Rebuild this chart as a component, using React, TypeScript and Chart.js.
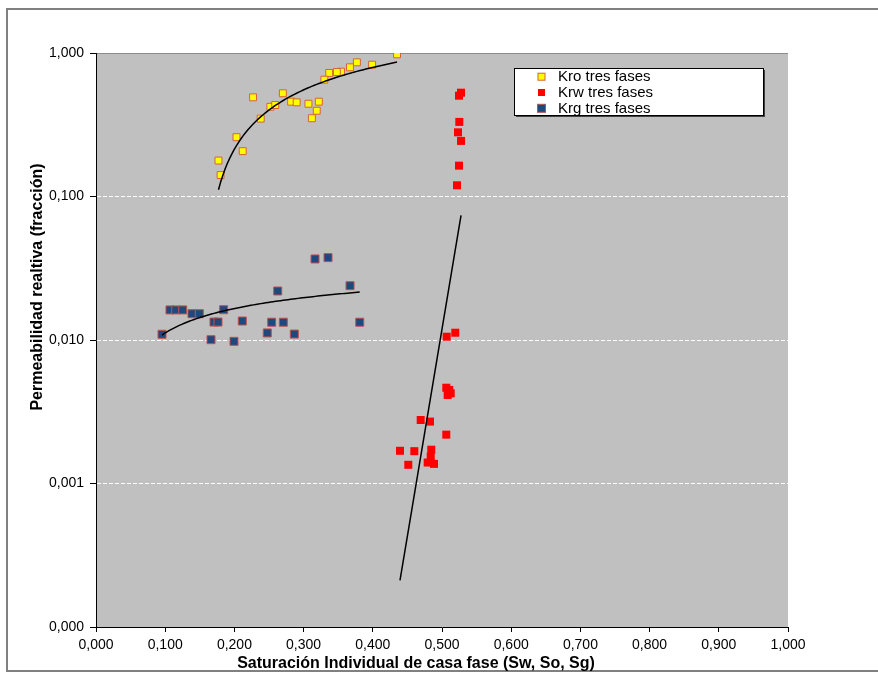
import React, { useEffect, useRef } from "react";
import { Chart, registerables } from "chart.js";

Chart.register(...registerables);

const FONT = "'Liberation Sans', Arial, Helvetica, sans-serif";

// ---- Data ----
const seriesNames = ["Kro tres fases", "Krw tres fases", "Krg tres fases"];

const kroSat = [0.435, 0.399, 0.377, 0.367, 0.354, 0.348, 0.337, 0.330, 0.270, 0.227, 0.252, 0.259, 0.282, 0.290, 0.307, 0.322, 0.319, 0.312, 0.238, 0.203, 0.212, 0.177, 0.180];
const kroVal = [0.979, 0.829, 0.861, 0.795, 0.741, 0.737, 0.726, 0.652, 0.524, 0.491, 0.422, 0.434, 0.458, 0.453, 0.443, 0.458, 0.396, 0.351, 0.349, 0.259, 0.207, 0.178, 0.141];

const krwSat = [0.5275, 0.5246, 0.525, 0.5231, 0.5275, 0.5246, 0.5217, 0.5192, 0.5068, 0.5062, 0.5105, 0.5126, 0.5082, 0.4692, 0.4827, 0.5062, 0.4393, 0.46, 0.4845, 0.4837, 0.4793, 0.4884, 0.4513];
const krwVal = [0.529, 0.504, 0.331, 0.28, 0.244, 0.164, 0.1197, 0.01124, 0.01054, 0.00465, 0.00449, 0.00425, 0.00414, 0.00277, 0.0027, 0.00219, 0.00169, 0.00168, 0.00172, 0.00154, 0.0014, 0.00137, 0.00135];

const krgSat = [0.0954, 0.1069, 0.1152, 0.1253, 0.1387, 0.1493, 0.1705, 0.1763, 0.1845, 0.1662, 0.1994, 0.2114, 0.2475, 0.2539, 0.2626, 0.2707, 0.2866, 0.3165, 0.3353, 0.3671, 0.3811];
const krgVal = [0.01096, 0.0162, 0.0162, 0.0162, 0.01525, 0.01525, 0.01334, 0.01334, 0.01626, 0.01005, 0.00979, 0.01356, 0.0112, 0.0133, 0.02195, 0.0133, 0.011, 0.0367, 0.0375, 0.0239, 0.0133];

const xTicks = [0, 0.1, 0.2, 0.3, 0.4, 0.5, 0.6, 0.7, 0.8, 0.9, 1.0];
const yTicks = [0.0001, 0.001, 0.01, 0.1, 1];

const xTitle = "Saturación Individual de casa fase (Sw, So, Sg)";
const yTitle = "Permeabilidad realtiva (fracción)";

// ---- Trendlines (least-squares fits of the data, like the spreadsheet) ----
function logTrend(xs: number[], ys: number[], n = 80) {
  const lx = xs.map(Math.log);
  const m = xs.length;
  const mx = lx.reduce((a, b) => a + b, 0) / m;
  const my = ys.reduce((a, b) => a + b, 0) / m;
  let sxy = 0, sxx = 0;
  for (let i = 0; i < m; i++) {
    sxy += (lx[i] - mx) * (ys[i] - my);
    sxx += (lx[i] - mx) * (lx[i] - mx);
  }
  const a = sxy / sxx;
  const b = my - a * mx;
  const x0 = Math.min(...xs), x1 = Math.max(...xs);
  const pts: { x: number; y: number }[] = [];
  for (let k = 0; k <= n; k++) {
    const x = x0 + ((x1 - x0) * k) / n;
    pts.push({ x, y: a * Math.log(x) + b });
  }
  return pts;
}

function expTrend(xs: number[], ys: number[], n = 20) {
  const ly = ys.map(Math.log);
  const m = xs.length;
  const mx = xs.reduce((a, b) => a + b, 0) / m;
  const my = ly.reduce((a, b) => a + b, 0) / m;
  let sxy = 0, sxx = 0;
  for (let i = 0; i < m; i++) {
    sxy += (xs[i] - mx) * (ly[i] - my);
    sxx += (xs[i] - mx) * (xs[i] - mx);
  }
  const b = sxy / sxx;
  const a = my - b * mx;
  const x0 = Math.min(...xs), x1 = Math.max(...xs);
  const pts: { x: number; y: number }[] = [];
  for (let k = 0; k <= n; k++) {
    const x = x0 + ((x1 - x0) * k) / n;
    pts.push({ x, y: Math.exp(a + b * x) });
  }
  return pts;
}

const zip = (xs: number[], ys: number[]) => xs.map((x, i) => ({ x, y: ys[i] }));
const fmt = (v: number) => Number(v).toFixed(3).replace(".", ",");

const KRO_FILL = "#FFFF00";
const KRO_BORDER = "#D9603A";
const KRW_FILL = "#FF0000";
const KRG_FILL = "#1F497D";
const KRG_BORDER = "#C0504D";

const decorPlugin = {
  id: "decor",
  beforeDraw(chart: any) {
    const { ctx, chartArea } = chart;
    ctx.save();
    ctx.fillStyle = "#FFFFFF";
    ctx.fillRect(0, 0, chart.width, chart.height);
    // outer frame
    ctx.strokeStyle = "#808080";
    ctx.lineWidth = 2;
    ctx.strokeRect(7, 9, 900, 662);
    // plot area
    ctx.fillStyle = "#C0C0C0";
    ctx.fillRect(chartArea.left, chartArea.top, chartArea.right - chartArea.left, chartArea.bottom - chartArea.top);
    ctx.strokeStyle = "#8C8C8C";
    ctx.lineWidth = 1;
    ctx.beginPath();
    ctx.moveTo(chartArea.left, chartArea.top + 0.5);
    ctx.lineTo(chartArea.right, chartArea.top + 0.5);
    ctx.stroke();
    ctx.restore();
  },
  afterDraw(chart: any) {
    const { ctx } = chart;
    ctx.save();
    // axis titles
    ctx.fillStyle = "#000";
    ctx.font = `bold 16px ${FONT}`;
    ctx.textAlign = "center";
    ctx.textBaseline = "alphabetic";
    ctx.fillText(xTitle, 416, 668);
    ctx.translate(41.5, 287);
    ctx.rotate(-Math.PI / 2);
    ctx.fillText(yTitle, 0, 0);
    ctx.restore();

    // legend
    ctx.save();
    const lx = 514, ly = 68, lw = 249, lh = 47;
    ctx.fillStyle = "#404040";
    ctx.fillRect(lx + 2, ly + 2, lw, lh);
    ctx.fillStyle = "#FFFFFF";
    ctx.fillRect(lx, ly, lw, lh);
    ctx.strokeStyle = "#000";
    ctx.lineWidth = 1;
    ctx.strokeRect(lx + 0.5, ly + 0.5, lw, lh);
    const rows = [76.7, 92.5, 108.3];
    const mx = 541.5;
    ctx.font = `15px ${FONT}`;
    ctx.textAlign = "left";
    ctx.textBaseline = "middle";
    rows.forEach((ry, i) => {
      if (i === 0) {
        ctx.fillStyle = KRO_FILL;
        ctx.fillRect(mx - 3.5, ry - 3.5, 7, 7);
        ctx.strokeStyle = KRO_BORDER;
        ctx.strokeRect(mx - 3.5, ry - 3.5, 7, 7);
      } else if (i === 1) {
        ctx.fillStyle = KRW_FILL;
        ctx.fillRect(mx - 3.5, ry - 3.5, 7, 7);
      } else {
        ctx.fillStyle = KRG_FILL;
        ctx.fillRect(mx - 4, ry - 4, 8, 8);
        ctx.strokeStyle = KRG_BORDER;
        ctx.strokeRect(mx - 4, ry - 4, 8, 8);
      }
      ctx.fillStyle = "#000";
      ctx.fillText(seriesNames[i], 558, ry + 0.5);
    });
    ctx.restore();
  },
};

export default function App() {
  const ref = useRef<HTMLCanvasElement | null>(null);

  useEffect(() => {
    if (!ref.current) return;
    const trendStyle = {
      showLine: true,
      pointRadius: 0,
      pointHoverRadius: 0,
      borderColor: "#000000",
      borderWidth: 1.5,
      fill: false,
      tension: 0,
    };
    const chart = new Chart(ref.current, {
      type: "scatter",
      data: {
        datasets: [
          { label: "trend Kro", data: logTrend(kroSat, kroVal), ...trendStyle },
          { label: "trend Krw", data: expTrend(krwSat, krwVal), ...trendStyle },
          { label: "trend Krg", data: logTrend(krgSat, krgVal), ...trendStyle },
          {
            label: seriesNames[0],
            data: zip(kroSat, kroVal),
            pointStyle: "rect",
            pointRadius: 4.9,
            backgroundColor: KRO_FILL,
            borderColor: KRO_BORDER,
            borderWidth: 1,
          },
          {
            label: seriesNames[1],
            data: zip(krwSat, krwVal),
            pointStyle: "rect",
            pointRadius: 5.66,
            backgroundColor: KRW_FILL,
            borderColor: KRW_FILL,
            borderWidth: 0,
          },
          {
            label: seriesNames[2],
            data: zip(krgSat, krgVal),
            pointStyle: "rect",
            pointRadius: 5.66,
            backgroundColor: KRG_FILL,
            borderColor: KRG_BORDER,
            borderWidth: 1,
          },
        ] as any,
      },
      options: {
        animation: false,
        responsive: false,
        events: [],
        layout: { padding: { left: 0, top: 53, right: 90, bottom: 0 } },
        plugins: { legend: { display: false }, tooltip: { enabled: false }, title: { display: false } },
        scales: {
          x: {
            type: "linear",
            min: 0,
            max: 1,
            afterFit: (s: any) => { s.height = 50; },
            afterBuildTicks: (s: any) => { s.ticks = xTicks.map((v) => ({ value: v })); },
            ticks: {
              callback: (v: any) => fmt(v),
              color: "#000",
              font: { family: FONT, size: 14 },
              padding: 5,
              maxRotation: 0,
              autoSkip: false,
            },
            grid: {
              display: true,
              drawOnChartArea: false,
              drawTicks: true,
              tickLength: 5,
              tickColor: "#000",
              tickWidth: 1,
            },
            border: { display: true, color: "#000", width: 1 },
          },
          y: {
            type: "logarithmic",
            min: 0.0001,
            max: 1,
            afterFit: (s: any) => { s.width = 96; },
            afterBuildTicks: (s: any) => { s.ticks = yTicks.map((v) => ({ value: v })); },
            ticks: {
              callback: (v: any) => fmt(v),
              color: "#000",
              font: { family: FONT, size: 14 },
              padding: 6,
              autoSkip: false,
            },
            grid: {
              display: true,
              drawOnChartArea: true,
              drawTicks: true,
              tickLength: 6,
              color: (c: any) =>
                c.tick && c.tick.value > 0.0001 && c.tick.value < 1 ? "#FFFFFF" : "rgba(0,0,0,0)",
              tickColor: "#000",
              tickWidth: 1,
              lineWidth: 1,
              tickBorderDash: [],
            },
            border: { display: true, color: "#000", width: 1, dash: [4, 2] },
          },
        },
      } as any,
      plugins: [decorPlugin],
    });
    return () => chart.destroy();
  }, []);

  return (
    <div style={{ position: "absolute", left: 0, top: 0, width: 878, height: 677, background: "#fff" }}>
      <canvas ref={ref} width={878} height={677} style={{ display: "block" }} />
    </div>
  );
}
